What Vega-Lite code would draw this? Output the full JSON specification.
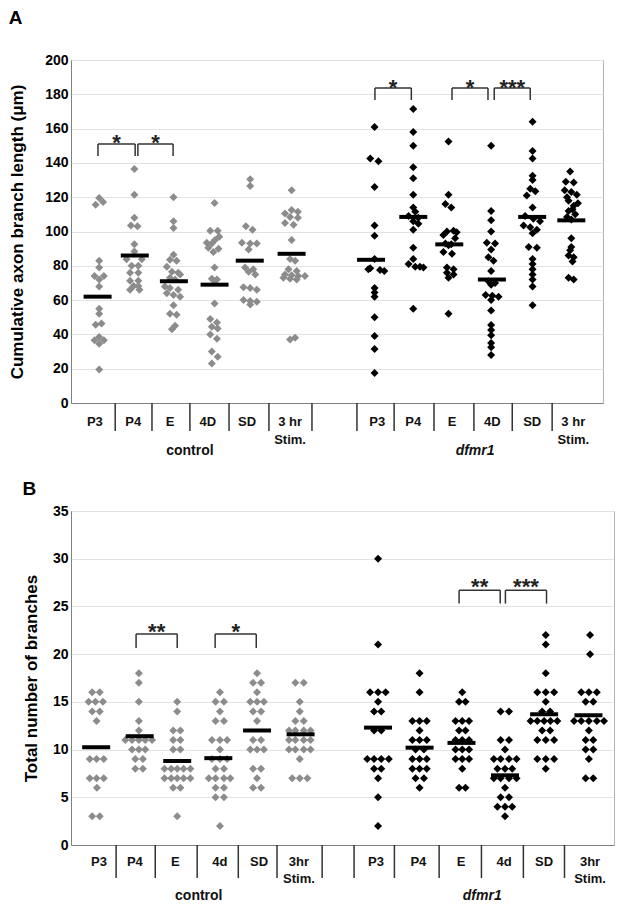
{
"$schema":"https://vega.github.io/schema/vega-lite/v6.json",
"padding":{"left":8,"top":8,"right":5,"bottom":5},
"background":"white",
"config":{"font":"Liberation Sans","view":{"stroke":"#b3b3b3","strokeWidth":1},"title":{"font":"Liberation Sans"},"axis":{"labelOverlap":false,"labelBound":false,"labelSeparation":-30}},
"datasets":{
"ptsA":[
{"g":"c","x":0.63,"v":115.6},{"g":"c","x":0.72,"v":119.5},{"g":"c","x":0.82,"v":117.2},{"g":"c","x":0.72,"v":83},{"g":"c","x":0.72,"v":79},{"g":"c","x":0.60,"v":74},{"g":"c","x":0.84,"v":74},{"g":"c","x":0.72,"v":72},{"g":"c","x":0.72,"v":68},{"g":"c","x":0.72,"v":55},{"g":"c","x":0.72,"v":52},{"g":"c","x":0.63,"v":45.6},{"g":"c","x":0.78,"v":46.3},{"g":"c","x":0.60,"v":36.6},{"g":"c","x":0.84,"v":36.6},{"g":"c","x":0.72,"v":38.5},{"g":"c","x":0.72,"v":34.6},{"g":"c","x":0.72,"v":19.6},
{"g":"c","x":1.62,"v":136.5},{"g":"c","x":1.62,"v":121.5},{"g":"c","x":1.62,"v":108},{"g":"c","x":1.53,"v":103.5},{"g":"c","x":1.70,"v":103},{"g":"c","x":1.62,"v":92.5},{"g":"c","x":1.62,"v":88.3},{"g":"c","x":1.42,"v":83.8},{"g":"c","x":1.81,"v":83.8},{"g":"c","x":1.55,"v":80},{"g":"c","x":1.72,"v":80},{"g":"c","x":1.51,"v":76},{"g":"c","x":1.72,"v":76},{"g":"c","x":1.51,"v":71.3},{"g":"c","x":1.72,"v":71.3},{"g":"c","x":1.60,"v":68.2},{"g":"c","x":1.72,"v":68.2},{"g":"c","x":1.51,"v":66},{"g":"c","x":1.75,"v":66},
{"g":"c","x":2.62,"v":120},{"g":"c","x":2.62,"v":106},{"g":"c","x":2.62,"v":102},{"g":"c","x":2.62,"v":86.5},{"g":"c","x":2.53,"v":83.5},{"g":"c","x":2.70,"v":83},{"g":"c","x":2.45,"v":79.5},{"g":"c","x":2.58,"v":76.5},{"g":"c","x":2.74,"v":76},{"g":"c","x":2.79,"v":75},{"g":"c","x":2.53,"v":73},{"g":"c","x":2.66,"v":72},{"g":"c","x":2.40,"v":68},{"g":"c","x":2.53,"v":67},{"g":"c","x":2.74,"v":66},{"g":"c","x":2.45,"v":64},{"g":"c","x":2.62,"v":63},{"g":"c","x":2.79,"v":62},{"g":"c","x":2.62,"v":57},{"g":"c","x":2.53,"v":52},{"g":"c","x":2.70,"v":51.5},{"g":"c","x":2.66,"v":45},{"g":"c","x":2.58,"v":43},
{"g":"c","x":3.67,"v":116.6},{"g":"c","x":3.56,"v":100.5},{"g":"c","x":3.75,"v":100.5},{"g":"c","x":3.79,"v":97},{"g":"c","x":3.68,"v":95},{"g":"c","x":3.47,"v":93.5},{"g":"c","x":3.60,"v":93},{"g":"c","x":3.51,"v":90.5},{"g":"c","x":3.77,"v":90},{"g":"c","x":3.64,"v":88},{"g":"c","x":3.67,"v":79},{"g":"c","x":3.60,"v":72.5},{"g":"c","x":3.73,"v":72},{"g":"c","x":3.67,"v":71},{"g":"c","x":3.67,"v":58},{"g":"c","x":3.56,"v":49},{"g":"c","x":3.73,"v":47},{"g":"c","x":3.60,"v":44.5},{"g":"c","x":3.75,"v":43.5},{"g":"c","x":3.56,"v":40},{"g":"c","x":3.73,"v":37.5},{"g":"c","x":3.60,"v":30},{"g":"c","x":3.75,"v":27},{"g":"c","x":3.60,"v":23},
{"g":"c","x":4.58,"v":130.5},{"g":"c","x":4.58,"v":126.5},{"g":"c","x":4.47,"v":103},{"g":"c","x":4.64,"v":101},{"g":"c","x":4.37,"v":93.5},{"g":"c","x":4.58,"v":93},{"g":"c","x":4.75,"v":93},{"g":"c","x":4.54,"v":89.5},{"g":"c","x":4.45,"v":79},{"g":"c","x":4.66,"v":78},{"g":"c","x":4.54,"v":76.5},{"g":"c","x":4.71,"v":75},{"g":"c","x":4.41,"v":67.5},{"g":"c","x":4.58,"v":67},{"g":"c","x":4.75,"v":66},{"g":"c","x":4.41,"v":60},{"g":"c","x":4.58,"v":59.5},{"g":"c","x":4.75,"v":59},{"g":"c","x":4.58,"v":57.5},
{"g":"c","x":5.64,"v":124},{"g":"c","x":5.64,"v":112.5},{"g":"c","x":5.80,"v":111.5},{"g":"c","x":5.47,"v":110.5},{"g":"c","x":5.60,"v":108.5},{"g":"c","x":5.80,"v":108},{"g":"c","x":5.47,"v":105},{"g":"c","x":5.69,"v":104},{"g":"c","x":5.64,"v":95},{"g":"c","x":5.60,"v":84},{"g":"c","x":5.73,"v":83},{"g":"c","x":5.56,"v":78},{"g":"c","x":5.77,"v":77},{"g":"c","x":5.47,"v":75},{"g":"c","x":5.64,"v":74.5},{"g":"c","x":5.81,"v":74},{"g":"c","x":5.98,"v":74},{"g":"c","x":5.43,"v":73},{"g":"c","x":5.60,"v":72.5},{"g":"c","x":5.77,"v":72},{"g":"c","x":5.73,"v":38},{"g":"c","x":5.60,"v":37},
{"g":"d","x":7.76,"v":161},{"g":"d","x":7.65,"v":142.5},{"g":"d","x":7.86,"v":141},{"g":"d","x":7.76,"v":126},{"g":"d","x":7.76,"v":103.5},{"g":"d","x":7.76,"v":97.5},{"g":"d","x":7.76,"v":84},{"g":"d","x":7.65,"v":78.5},{"g":"d","x":7.60,"v":78},{"g":"d","x":7.90,"v":77.5},{"g":"d","x":8.01,"v":77},{"g":"d","x":7.76,"v":67},{"g":"d","x":7.76,"v":64.5},{"g":"d","x":7.76,"v":62},{"g":"d","x":7.76,"v":50},{"g":"d","x":7.76,"v":39},{"g":"d","x":7.76,"v":31.5},{"g":"d","x":7.76,"v":17.5},
{"g":"d","x":8.75,"v":171.5},{"g":"d","x":8.75,"v":158},{"g":"d","x":8.75,"v":150},{"g":"d","x":8.75,"v":137.5},{"g":"d","x":8.75,"v":131},{"g":"d","x":8.75,"v":121.5},{"g":"d","x":8.75,"v":114},{"g":"d","x":8.80,"v":111.5},{"g":"d","x":8.63,"v":109},{"g":"d","x":8.88,"v":108},{"g":"d","x":8.75,"v":106},{"g":"d","x":8.88,"v":104.5},{"g":"d","x":8.75,"v":101},{"g":"d","x":8.75,"v":90.5},{"g":"d","x":8.75,"v":84},{"g":"d","x":8.63,"v":81},{"g":"d","x":8.80,"v":79.5},{"g":"d","x":8.92,"v":79.5},{"g":"d","x":9.01,"v":79},{"g":"d","x":8.75,"v":55},
{"g":"d","x":9.65,"v":152.5},{"g":"d","x":9.65,"v":121.5},{"g":"d","x":9.57,"v":116},{"g":"d","x":9.72,"v":114},{"g":"d","x":9.78,"v":100.5},{"g":"d","x":9.61,"v":100},{"g":"d","x":9.86,"v":99.5},{"g":"d","x":9.52,"v":98},{"g":"d","x":9.82,"v":96},{"g":"d","x":9.57,"v":93},{"g":"d","x":9.72,"v":92.5},{"g":"d","x":9.65,"v":92},{"g":"d","x":9.52,"v":88},{"g":"d","x":9.74,"v":87},{"g":"d","x":9.61,"v":79},{"g":"d","x":9.78,"v":78},{"g":"d","x":9.61,"v":76},{"g":"d","x":9.78,"v":75},{"g":"d","x":9.65,"v":73},{"g":"d","x":9.65,"v":52},
{"g":"d","x":10.74,"v":150},{"g":"d","x":10.74,"v":112},{"g":"d","x":10.74,"v":106.5},{"g":"d","x":10.74,"v":100},{"g":"d","x":10.63,"v":93.5},{"g":"d","x":10.84,"v":93},{"g":"d","x":10.74,"v":89.5},{"g":"d","x":10.67,"v":85},{"g":"d","x":10.80,"v":83},{"g":"d","x":10.74,"v":77},{"g":"d","x":10.67,"v":71},{"g":"d","x":10.84,"v":70},{"g":"d","x":10.74,"v":69},{"g":"d","x":10.60,"v":63},{"g":"d","x":10.77,"v":62.5},{"g":"d","x":10.93,"v":62},{"g":"d","x":10.74,"v":60},{"g":"d","x":10.74,"v":54},{"g":"d","x":10.74,"v":45.5},{"g":"d","x":10.74,"v":42.5},{"g":"d","x":10.74,"v":39.5},{"g":"d","x":10.74,"v":35},{"g":"d","x":10.74,"v":32.5},{"g":"d","x":10.74,"v":28},
{"g":"d","x":11.80,"v":164},{"g":"d","x":11.80,"v":147},{"g":"d","x":11.80,"v":142.5},{"g":"d","x":11.80,"v":132.5},{"g":"d","x":11.80,"v":130},{"g":"d","x":11.74,"v":125},{"g":"d","x":11.87,"v":123.5},{"g":"d","x":11.65,"v":121},{"g":"d","x":11.80,"v":114},{"g":"d","x":11.61,"v":109},{"g":"d","x":11.82,"v":107.5},{"g":"d","x":11.99,"v":106},{"g":"d","x":11.57,"v":103.5},{"g":"d","x":11.74,"v":102.5},{"g":"d","x":11.91,"v":101},{"g":"d","x":11.80,"v":99},{"g":"d","x":11.70,"v":91},{"g":"d","x":11.91,"v":90.5},{"g":"d","x":11.80,"v":84},{"g":"d","x":11.80,"v":81},{"g":"d","x":11.80,"v":78},{"g":"d","x":11.80,"v":75},{"g":"d","x":11.80,"v":72},{"g":"d","x":11.80,"v":68},{"g":"d","x":11.80,"v":57},
{"g":"d","x":12.76,"v":135},{"g":"d","x":12.65,"v":129},{"g":"d","x":12.85,"v":128.5},{"g":"d","x":12.62,"v":124},{"g":"d","x":12.79,"v":123},{"g":"d","x":12.93,"v":121.5},{"g":"d","x":12.68,"v":120},{"g":"d","x":12.72,"v":118},{"g":"d","x":12.96,"v":116.5},{"g":"d","x":12.85,"v":115},{"g":"d","x":12.82,"v":113},{"g":"d","x":12.72,"v":112},{"g":"d","x":12.89,"v":110},{"g":"d","x":12.68,"v":108.5},{"g":"d","x":12.79,"v":107},{"g":"d","x":12.79,"v":96},{"g":"d","x":12.79,"v":91},{"g":"d","x":12.76,"v":89},{"g":"d","x":12.72,"v":86},{"g":"d","x":12.85,"v":85},{"g":"d","x":12.82,"v":82.5},{"g":"d","x":12.72,"v":73},{"g":"d","x":12.85,"v":72}
],
"meansA":[{"x":0.68,"v":62},{"x":1.63,"v":86},{"x":2.63,"v":71},{"x":3.67,"v":69},{"x":4.57,"v":83},{"x":5.64,"v":87},{"x":7.67,"v":83.5},{"x":8.75,"v":108.5},{"x":9.67,"v":92.5},{"x":10.76,"v":72},{"x":11.79,"v":108.5},{"x":12.79,"v":106.5}],
"brA":[{"x1":0.69,"x2":1.64,"xm":1.165,"top":151,"bot":144,"ys":147.4,"label":"*"},{"x1":1.71,"x2":2.61,"xm":2.16,"top":151,"bot":144,"ys":147.4,"label":"*"},{"x1":7.77,"x2":8.70,"xm":8.235,"top":183.7,"bot":176.7,"ys":179.4,"label":"*"},{"x1":9.74,"x2":10.66,"xm":10.2,"top":183.7,"bot":176.7,"ys":179.4,"label":"*"},{"x1":10.82,"x2":11.74,"xm":11.28,"top":183.7,"bot":176.7,"ys":179.4,"label":"***"}],
"sepA":[{"x":1.13},{"x":2.07},{"x":3.04},{"x":4.04},{"x":5.06},{"x":6.16},{"x":7.31},{"x":8.26},{"x":9.28},{"x":10.30},{"x":11.28},{"x":12.30}],
"labA":[{"x":0.61,"t":"P3"},{"x":1.59,"t":"P4"},{"x":2.53,"t":"E"},{"x":3.50,"t":"4D"},{"x":4.50,"t":"SD"},{"x":5.60,"t":"3 hr\nStim."},{"x":7.83,"t":"P3"},{"x":8.75,"t":"P4"},{"x":9.74,"t":"E"},{"x":10.77,"t":"4D"},{"x":11.79,"t":"SD"},{"x":12.84,"t":"3 hr\nStim."}],
"ptsB":[
{"g":"c","x":0.53,"v":16},{"g":"c","x":0.72,"v":16},{"g":"c","x":0.44,"v":15},{"g":"c","x":0.61,"v":15},{"g":"c","x":0.80,"v":15},{"g":"c","x":0.53,"v":14},{"g":"c","x":0.72,"v":14},{"g":"c","x":0.64,"v":13},{"g":"c","x":0.47,"v":9},{"g":"c","x":0.64,"v":9},{"g":"c","x":0.82,"v":9},{"g":"c","x":0.47,"v":7},{"g":"c","x":0.64,"v":7},{"g":"c","x":0.82,"v":7},{"g":"c","x":0.65,"v":6},{"g":"c","x":0.53,"v":3},{"g":"c","x":0.72,"v":3},
{"g":"c","x":1.70,"v":18},{"g":"c","x":1.70,"v":17},{"g":"c","x":1.70,"v":15},{"g":"c","x":1.70,"v":13},{"g":"c","x":1.70,"v":12},{"g":"c","x":1.36,"v":11},{"g":"c","x":1.53,"v":11},{"g":"c","x":1.70,"v":11},{"g":"c","x":1.86,"v":11},{"g":"c","x":2.03,"v":11},{"g":"c","x":1.53,"v":10},{"g":"c","x":1.70,"v":10},{"g":"c","x":1.86,"v":10},{"g":"c","x":1.61,"v":9},{"g":"c","x":1.80,"v":9},{"g":"c","x":1.61,"v":8},{"g":"c","x":1.80,"v":8},
{"g":"c","x":2.66,"v":15},{"g":"c","x":2.66,"v":14},{"g":"c","x":2.56,"v":12},{"g":"c","x":2.74,"v":12},{"g":"c","x":2.56,"v":11},{"g":"c","x":2.74,"v":11},{"g":"c","x":2.56,"v":10},{"g":"c","x":2.74,"v":10},{"g":"c","x":2.34,"v":8},{"g":"c","x":2.51,"v":8},{"g":"c","x":2.66,"v":8},{"g":"c","x":2.82,"v":8},{"g":"c","x":2.99,"v":8},{"g":"c","x":2.34,"v":7},{"g":"c","x":2.51,"v":7},{"g":"c","x":2.66,"v":7},{"g":"c","x":2.82,"v":7},{"g":"c","x":2.99,"v":7},{"g":"c","x":2.56,"v":6},{"g":"c","x":2.74,"v":6},{"g":"c","x":2.66,"v":3},
{"g":"c","x":3.73,"v":16},{"g":"c","x":3.62,"v":15},{"g":"c","x":3.83,"v":15},{"g":"c","x":3.73,"v":14},{"g":"c","x":3.62,"v":13},{"g":"c","x":3.83,"v":13},{"g":"c","x":3.53,"v":11},{"g":"c","x":3.73,"v":11},{"g":"c","x":3.91,"v":11},{"g":"c","x":3.73,"v":10},{"g":"c","x":3.53,"v":9},{"g":"c","x":3.73,"v":9},{"g":"c","x":3.91,"v":9},{"g":"c","x":3.62,"v":8},{"g":"c","x":3.83,"v":8},{"g":"c","x":3.45,"v":7},{"g":"c","x":3.62,"v":7},{"g":"c","x":3.83,"v":7},{"g":"c","x":3.99,"v":7},{"g":"c","x":3.62,"v":6},{"g":"c","x":3.83,"v":6},{"g":"c","x":3.62,"v":5},{"g":"c","x":3.83,"v":5},{"g":"c","x":3.73,"v":2},
{"g":"c","x":4.66,"v":18},{"g":"c","x":4.56,"v":17},{"g":"c","x":4.76,"v":17},{"g":"c","x":4.66,"v":16},{"g":"c","x":4.49,"v":15},{"g":"c","x":4.66,"v":15},{"g":"c","x":4.83,"v":15},{"g":"c","x":4.56,"v":14},{"g":"c","x":4.76,"v":14},{"g":"c","x":4.66,"v":13},{"g":"c","x":4.56,"v":11},{"g":"c","x":4.76,"v":11},{"g":"c","x":4.49,"v":10},{"g":"c","x":4.66,"v":10},{"g":"c","x":4.83,"v":10},{"g":"c","x":4.56,"v":8},{"g":"c","x":4.76,"v":8},{"g":"c","x":4.66,"v":7},{"g":"c","x":4.56,"v":6},{"g":"c","x":4.76,"v":6},
{"g":"c","x":5.62,"v":17},{"g":"c","x":5.83,"v":17},{"g":"c","x":5.73,"v":15},{"g":"c","x":5.73,"v":14},{"g":"c","x":5.62,"v":13},{"g":"c","x":5.83,"v":13},{"g":"c","x":5.46,"v":12},{"g":"c","x":5.62,"v":12},{"g":"c","x":5.83,"v":12},{"g":"c","x":6.00,"v":12},{"g":"c","x":5.46,"v":11},{"g":"c","x":5.62,"v":11},{"g":"c","x":5.83,"v":11},{"g":"c","x":6.00,"v":11},{"g":"c","x":5.46,"v":10},{"g":"c","x":5.62,"v":10},{"g":"c","x":5.83,"v":10},{"g":"c","x":6.00,"v":10},{"g":"c","x":5.73,"v":9},{"g":"c","x":5.54,"v":7},{"g":"c","x":5.73,"v":7},{"g":"c","x":5.92,"v":7},
{"g":"d","x":7.69,"v":30},{"g":"d","x":7.69,"v":21},{"g":"d","x":7.49,"v":16},{"g":"d","x":7.69,"v":16},{"g":"d","x":7.88,"v":16},{"g":"d","x":7.69,"v":15},{"g":"d","x":7.59,"v":14},{"g":"d","x":7.77,"v":14},{"g":"d","x":7.59,"v":12},{"g":"d","x":7.77,"v":12},{"g":"d","x":7.42,"v":9},{"g":"d","x":7.59,"v":9},{"g":"d","x":7.77,"v":9},{"g":"d","x":7.96,"v":9},{"g":"d","x":7.59,"v":8},{"g":"d","x":7.77,"v":8},{"g":"d","x":7.69,"v":7},{"g":"d","x":7.69,"v":5},{"g":"d","x":7.69,"v":2},
{"g":"d","x":8.73,"v":18},{"g":"d","x":8.73,"v":16},{"g":"d","x":8.55,"v":13},{"g":"d","x":8.73,"v":13},{"g":"d","x":8.91,"v":13},{"g":"d","x":8.73,"v":12},{"g":"d","x":8.55,"v":11},{"g":"d","x":8.73,"v":11},{"g":"d","x":8.91,"v":11},{"g":"d","x":8.63,"v":10},{"g":"d","x":8.84,"v":10},{"g":"d","x":8.55,"v":9},{"g":"d","x":8.73,"v":9},{"g":"d","x":8.91,"v":9},{"g":"d","x":8.55,"v":8},{"g":"d","x":8.73,"v":8},{"g":"d","x":8.91,"v":8},{"g":"d","x":8.63,"v":7},{"g":"d","x":8.84,"v":7},{"g":"d","x":8.73,"v":6},
{"g":"d","x":9.80,"v":16},{"g":"d","x":9.72,"v":15},{"g":"d","x":9.88,"v":15},{"g":"d","x":9.63,"v":13},{"g":"d","x":9.80,"v":13},{"g":"d","x":9.97,"v":13},{"g":"d","x":9.72,"v":12},{"g":"d","x":9.88,"v":12},{"g":"d","x":9.63,"v":11},{"g":"d","x":9.80,"v":11},{"g":"d","x":9.97,"v":11},{"g":"d","x":9.63,"v":10},{"g":"d","x":9.80,"v":10},{"g":"d","x":9.97,"v":10},{"g":"d","x":9.63,"v":9},{"g":"d","x":9.80,"v":9},{"g":"d","x":9.97,"v":9},{"g":"d","x":9.80,"v":8},{"g":"d","x":9.72,"v":6},{"g":"d","x":9.88,"v":6},
{"g":"d","x":10.76,"v":14},{"g":"d","x":10.97,"v":14},{"g":"d","x":10.76,"v":11},{"g":"d","x":10.97,"v":11},{"g":"d","x":10.87,"v":10},{"g":"d","x":10.59,"v":9},{"g":"d","x":10.76,"v":9},{"g":"d","x":10.97,"v":9},{"g":"d","x":11.16,"v":9},{"g":"d","x":10.68,"v":8},{"g":"d","x":10.87,"v":8},{"g":"d","x":11.05,"v":8},{"g":"d","x":10.59,"v":7},{"g":"d","x":10.76,"v":7},{"g":"d","x":10.97,"v":7},{"g":"d","x":11.16,"v":7},{"g":"d","x":10.87,"v":6},{"g":"d","x":10.76,"v":5},{"g":"d","x":10.97,"v":5},{"g":"d","x":10.68,"v":4},{"g":"d","x":10.87,"v":4},{"g":"d","x":11.05,"v":4},{"g":"d","x":10.87,"v":3},
{"g":"d","x":11.89,"v":22},{"g":"d","x":11.89,"v":21},{"g":"d","x":11.89,"v":18},{"g":"d","x":11.68,"v":16},{"g":"d","x":11.89,"v":16},{"g":"d","x":12.10,"v":16},{"g":"d","x":11.89,"v":15},{"g":"d","x":11.80,"v":14},{"g":"d","x":12.00,"v":14},{"g":"d","x":11.51,"v":13},{"g":"d","x":11.68,"v":13},{"g":"d","x":11.85,"v":13},{"g":"d","x":12.01,"v":13},{"g":"d","x":12.18,"v":13},{"g":"d","x":11.80,"v":12},{"g":"d","x":12.00,"v":12},{"g":"d","x":11.68,"v":11},{"g":"d","x":11.89,"v":11},{"g":"d","x":12.10,"v":11},{"g":"d","x":11.68,"v":9},{"g":"d","x":11.89,"v":9},{"g":"d","x":12.10,"v":9},{"g":"d","x":11.89,"v":8},
{"g":"d","x":13.0,"v":22},{"g":"d","x":13.0,"v":20},{"g":"d","x":12.78,"v":16},{"g":"d","x":12.97,"v":16},{"g":"d","x":13.17,"v":16},{"g":"d","x":12.89,"v":15},{"g":"d","x":13.08,"v":15},{"g":"d","x":12.60,"v":13},{"g":"d","x":12.78,"v":13},{"g":"d","x":12.97,"v":13},{"g":"d","x":13.17,"v":13},{"g":"d","x":13.35,"v":13},{"g":"d","x":12.97,"v":12},{"g":"d","x":12.89,"v":11},{"g":"d","x":13.08,"v":11},{"g":"d","x":12.89,"v":10},{"g":"d","x":13.08,"v":10},{"g":"d","x":12.97,"v":9},{"g":"d","x":12.89,"v":7},{"g":"d","x":13.08,"v":7}
],
"meansB":[{"x":0.63,"v":10.25},{"x":1.72,"v":11.4},{"x":2.66,"v":8.8},{"x":3.69,"v":9.1},{"x":4.66,"v":12.0},{"x":5.75,"v":11.6},{"x":7.69,"v":12.3},{"x":8.73,"v":10.2},{"x":9.78,"v":10.7},{"x":10.87,"v":7.3},{"x":11.85,"v":13.7},{"x":12.96,"v":13.6}],
"brB":[{"x1":1.63,"x2":2.66,"xm":2.145,"top":22.1,"bot":20.65,"ys":21.6,"label":"**"},{"x1":3.61,"x2":4.64,"xm":4.125,"top":22.1,"bot":20.65,"ys":21.6,"label":"*"},{"x1":9.72,"x2":10.75,"xm":10.235,"top":26.7,"bot":25.3,"ys":26.3,"label":"**"},{"x1":10.88,"x2":11.91,"xm":11.395,"top":26.7,"bot":25.3,"ys":26.3,"label":"***"}],
"sepB":[{"x":1.13},{"x":2.11},{"x":3.16},{"x":4.19},{"x":5.16},{"x":6.29},{"x":7.09},{"x":8.10},{"x":9.22},{"x":10.28},{"x":11.33},{"x":12.36}],
"labB":[{"x":0.70,"t":"P3"},{"x":1.60,"t":"P4"},{"x":2.61,"t":"E"},{"x":3.73,"t":"4d"},{"x":4.71,"t":"SD"},{"x":5.71,"t":"3hr\nStim."},{"x":7.64,"t":"P3"},{"x":8.70,"t":"P4"},{"x":9.77,"t":"E"},{"x":10.85,"t":"4d"},{"x":11.85,"t":"SD"},{"x":13.0,"t":"3hr\nStim."}]
},
"columns":1,
"align":"none",
"spacing":20,
"concat":[
{
"width":532,"height":343,
"title":{"text":"A","anchor":"start","frame":"bounds","fontSize":19,"fontWeight":"bold","color":"black","offset":25},
"layer":[
{"data":{"name":"ptsA"},"mark":{"type":"point","shape":"diamond","filled":true,"opacity":1,"size":64},
"encoding":{
"x":{"field":"x","type":"quantitative","scale":{"domain":[0,13.6],"nice":false,"zero":false},"axis":{"title":null,"labels":false,"ticks":false,"grid":false,"domainColor":"#808080"}},
"y":{"field":"v","type":"quantitative","scale":{"domain":[0,200],"nice":false},"axis":{"values":[0,20,40,60,80,100,120,140,160,180,200],"tickCount":11,"labelOverlap":false,"labelSeparation":-30,"title":"Cumulative axon branch length (μm)","titleFontSize":17,"titleFontWeight":"bold","titleColor":"black","titlePadding":18,"labelFontSize":14,"labelFontWeight":"bold","labelColor":"black","labelPadding":3,"ticks":false,"domainColor":"#808080","gridColor":"#e3e3e3"}},
"color":{"field":"g","type":"nominal","scale":{"domain":["c","d"],"range":["#8c8c8c","#000000"]},"legend":null}}},
{"data":{"name":"meansA"},"mark":{"type":"tick","orient":"horizontal","size":28,"thickness":4,"color":"black","opacity":1},
"encoding":{"x":{"field":"x","type":"quantitative","axis":{"title":null,"labels":false,"ticks":false,"grid":false,"domainColor":"#808080"}},"y":{"field":"v","type":"quantitative"}}},
{"data":{"name":"brA"},"mark":{"type":"rule","color":"#333333","strokeWidth":1.5},
"encoding":{"x":{"field":"x1","type":"quantitative","axis":{"title":null,"labels":false,"ticks":false,"grid":false,"domainColor":"#808080"}},"x2":{"field":"x2"},"y":{"field":"top","type":"quantitative"}}},
{"data":{"name":"brA"},"mark":{"type":"rule","color":"#333333","strokeWidth":1.5},
"encoding":{"x":{"field":"x1","type":"quantitative","axis":{"title":null,"labels":false,"ticks":false,"grid":false,"domainColor":"#808080"}},"y":{"field":"top","type":"quantitative"},"y2":{"field":"bot"}}},
{"data":{"name":"brA"},"mark":{"type":"rule","color":"#333333","strokeWidth":1.5},
"encoding":{"x":{"field":"x2","type":"quantitative","axis":{"title":null,"labels":false,"ticks":false,"grid":false,"domainColor":"#808080"}},"y":{"field":"top","type":"quantitative"},"y2":{"field":"bot"}}},
{"data":{"name":"brA"},"mark":{"type":"text","fontSize":22,"fontWeight":"bold","baseline":"alphabetic","align":"center","color":"#222222"},
"encoding":{"x":{"field":"xm","type":"quantitative","axis":{"title":null,"labels":false,"ticks":false,"grid":false,"domainColor":"#808080"}},"y":{"field":"ys","type":"quantitative"},"text":{"field":"label"}}},
{"data":{"name":"sepA"},"mark":{"type":"rule","color":"#333333","strokeWidth":1.5},
"encoding":{"x":{"field":"x","type":"quantitative","axis":{"title":null,"labels":false,"ticks":false,"grid":false,"domainColor":"#808080"}},"y":{"datum":0,"type":"quantitative"},"y2":{"datum":-16.3}}},
{"data":{"name":"labA"},"mark":{"type":"text","fontSize":13,"fontWeight":"bold","baseline":"top","align":"center","lineBreak":"\n","lineHeight":18,"color":"#111111"},
"encoding":{"x":{"field":"x","type":"quantitative","axis":{"title":null,"labels":false,"ticks":false,"grid":false,"domainColor":"#808080"}},"y":{"datum":-7.6,"type":"quantitative"},"text":{"field":"t"}}},
{"data":{"values":[{"x":3.04,"t":"control"}]},"mark":{"type":"text","fontSize":14,"fontWeight":"bold","baseline":"top","align":"center","color":"#111111"},
"encoding":{"x":{"field":"x","type":"quantitative","axis":{"title":null,"labels":false,"ticks":false,"grid":false,"domainColor":"#808080"}},"y":{"datum":-23.9,"type":"quantitative"},"text":{"field":"t"}}},
{"data":{"values":[{"x":10.33,"t":"dfmr1"}]},"mark":{"type":"text","fontSize":14,"fontWeight":"bold","fontStyle":"italic","baseline":"top","align":"center","color":"#111111"},
"encoding":{"x":{"field":"x","type":"quantitative","axis":{"title":null,"labels":false,"ticks":false,"grid":false,"domainColor":"#808080"}},"y":{"datum":-23.9,"type":"quantitative"},"text":{"field":"t"}}}
]
},
{
"width":543,"height":334,
"title":{"text":"B","anchor":"start","frame":"bounds","fontSize":19,"fontWeight":"bold","color":"black","offset":5},
"layer":[
{"data":{"name":"ptsB"},"mark":{"type":"point","shape":"diamond","filled":true,"opacity":1,"size":64},
"encoding":{
"x":{"field":"x","type":"quantitative","scale":{"domain":[0,13.6],"nice":false,"zero":false},"axis":{"title":null,"labels":false,"ticks":false,"grid":false,"domainColor":"#808080"}},
"y":{"field":"v","type":"quantitative","scale":{"domain":[0,35],"nice":false},"axis":{"values":[0,5,10,15,20,25,30,35],"labelOverlap":false,"title":"Total number of branches","titleFontSize":17,"titleFontWeight":"bold","titleColor":"black","titlePadding":12,"labelFontSize":14,"labelFontWeight":"bold","labelColor":"black","labelPadding":3,"ticks":false,"domainColor":"#808080","gridColor":"#e3e3e3"}},
"color":{"field":"g","type":"nominal","scale":{"domain":["c","d"],"range":["#8c8c8c","#000000"]},"legend":null}}},
{"data":{"name":"meansB"},"mark":{"type":"tick","orient":"horizontal","size":28,"thickness":4,"color":"black","opacity":1},
"encoding":{"x":{"field":"x","type":"quantitative","axis":{"title":null,"labels":false,"ticks":false,"grid":false,"domainColor":"#808080"}},"y":{"field":"v","type":"quantitative"}}},
{"data":{"name":"brB"},"mark":{"type":"rule","color":"#333333","strokeWidth":1.5},
"encoding":{"x":{"field":"x1","type":"quantitative","axis":{"title":null,"labels":false,"ticks":false,"grid":false,"domainColor":"#808080"}},"x2":{"field":"x2"},"y":{"field":"top","type":"quantitative"}}},
{"data":{"name":"brB"},"mark":{"type":"rule","color":"#333333","strokeWidth":1.5},
"encoding":{"x":{"field":"x1","type":"quantitative","axis":{"title":null,"labels":false,"ticks":false,"grid":false,"domainColor":"#808080"}},"y":{"field":"top","type":"quantitative"},"y2":{"field":"bot"}}},
{"data":{"name":"brB"},"mark":{"type":"rule","color":"#333333","strokeWidth":1.5},
"encoding":{"x":{"field":"x2","type":"quantitative","axis":{"title":null,"labels":false,"ticks":false,"grid":false,"domainColor":"#808080"}},"y":{"field":"top","type":"quantitative"},"y2":{"field":"bot"}}},
{"data":{"name":"brB"},"mark":{"type":"text","fontSize":22,"fontWeight":"bold","baseline":"alphabetic","align":"center","color":"#222222"},
"encoding":{"x":{"field":"xm","type":"quantitative","axis":{"title":null,"labels":false,"ticks":false,"grid":false,"domainColor":"#808080"}},"y":{"field":"ys","type":"quantitative"},"text":{"field":"label"}}},
{"data":{"name":"sepB"},"mark":{"type":"rule","color":"#333333","strokeWidth":1.5},
"encoding":{"x":{"field":"x","type":"quantitative","axis":{"title":null,"labels":false,"ticks":false,"grid":false,"domainColor":"#808080"}},"y":{"datum":0,"type":"quantitative"},"y2":{"datum":-3.46}}},
{"data":{"name":"labB"},"mark":{"type":"text","fontSize":13,"fontWeight":"bold","baseline":"top","align":"center","lineBreak":"\n","lineHeight":17,"color":"#111111"},
"encoding":{"x":{"field":"x","type":"quantitative","axis":{"title":null,"labels":false,"ticks":false,"grid":false,"domainColor":"#808080"}},"y":{"datum":-1.15,"type":"quantitative"},"text":{"field":"t"}}},
{"data":{"values":[{"x":3.2,"t":"control"}]},"mark":{"type":"text","fontSize":14,"fontWeight":"bold","baseline":"top","align":"center","color":"#111111"},
"encoding":{"x":{"field":"x","type":"quantitative","axis":{"title":null,"labels":false,"ticks":false,"grid":false,"domainColor":"#808080"}},"y":{"datum":-4.61,"type":"quantitative"},"text":{"field":"t"}}},
{"data":{"values":[{"x":10.3,"t":"dfmr1"}]},"mark":{"type":"text","fontSize":14,"fontWeight":"bold","fontStyle":"italic","baseline":"top","align":"center","color":"#111111"},
"encoding":{"x":{"field":"x","type":"quantitative","axis":{"title":null,"labels":false,"ticks":false,"grid":false,"domainColor":"#808080"}},"y":{"datum":-4.61,"type":"quantitative"},"text":{"field":"t"}}}
]
}
]
}
